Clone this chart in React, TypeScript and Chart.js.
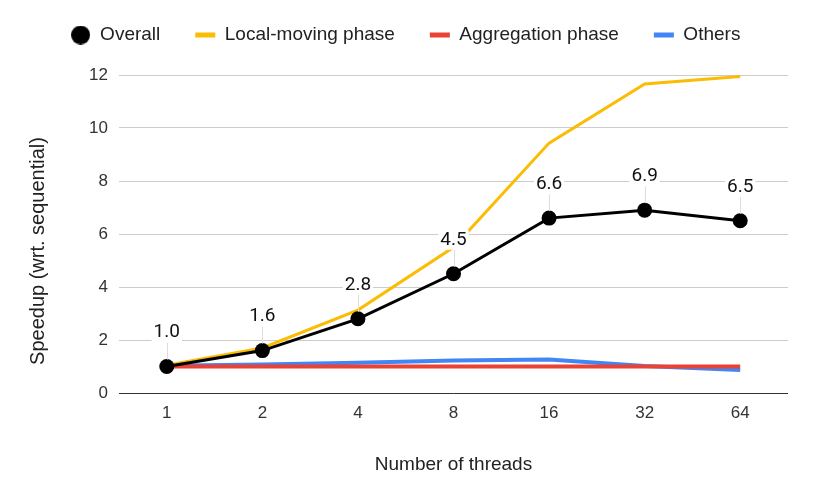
import React, { useEffect, useRef } from 'react';
import { Chart, registerables } from 'chart.js';

Chart.register(...registerables);

const threads = ['1', '2', '4', '8', '16', '32', '64'];
const overall = [1.0, 1.6, 2.8, 4.5, 6.6, 6.9, 6.5];
const localMoving = [1.05, 1.7, 3.13, 5.5, 9.43, 11.66, 11.94];
const aggregation = [1.0, 1.0, 1.0, 1.0, 1.0, 1.0, 1.0];
const others = [1.03, 1.08, 1.14, 1.23, 1.26, 1.02, 0.87];
const seriesNames = ['Overall', 'Local-moving phase', 'Aggregation phase', 'Others'];
const seriesColors = ['#000000', '#FBBC04', '#EA4335', '#4285F4'];
const yTitle = 'Speedup (wrt. sequential)';
const xTitle = 'Number of threads';

const AXIS_FONT = '"Liberation Sans", Arial, sans-serif';
const LABEL_FONT = 'Roboto, "Liberation Sans", sans-serif';

const pointLabelPlugin = {
  id: 'pointLabels',
  afterDatasetsDraw(chart: any) {
    const meta = chart.getDatasetMeta(0);
    const ctx = chart.ctx;
    ctx.save();
    ctx.font = `19px ${LABEL_FONT}`;
    ctx.textAlign = 'center';
    ctx.textBaseline = 'middle';
    meta.data.forEach((pt: any, i: number) => {
      const text = overall[i].toFixed(1);
      const x = pt.x;
      const y = pt.y - 34;
      const w = ctx.measureText(text).width;
      ctx.strokeStyle = '#dddddd';
      ctx.lineWidth = 1;
      ctx.beginPath();
      ctx.moveTo(Math.round(x) + 0.5, y + 10);
      ctx.lineTo(Math.round(x) + 0.5, pt.y - 7);
      ctx.stroke();
      ctx.fillStyle = '#ffffff';
      ctx.fillRect(x - w / 2 - 2, y - 10, w + 4, 20);
      ctx.fillStyle = '#111111';
      ctx.fillText(text, x, y);
    });
    ctx.restore();
  },
};

const yTitlePlugin = {
  id: 'yTitleDraw',
  afterDraw(chart: any) {
    const ctx = chart.ctx;
    ctx.save();
    ctx.translate(38, 251);
    ctx.rotate(-Math.PI / 2);
    ctx.font = `20px ${AXIS_FONT}`;
    ctx.fillStyle = '#222222';
    ctx.textAlign = 'center';
    ctx.textBaseline = 'middle';
    ctx.fillText(yTitle, 0, 0);
    ctx.restore();
  },
};

const legendSizePlugin = {
  id: 'legendSize',
  beforeInit(chart: any) {
    const lg = chart.legend;
    if (!lg) return;
    const orig = lg.fit.bind(lg);
    lg.fit = function () {
      orig();
      this.height = 84.5;
    };
  },
};

export default function App() {
  const ref = useRef<HTMLCanvasElement | null>(null);

  useEffect(() => {
    if (!ref.current) return;
    const circle = document.createElement('canvas');
    circle.width = 19;
    circle.height = 19;
    const g = circle.getContext('2d')!;
    g.fillStyle = '#000000';
    g.beginPath();
    g.arc(9.5, 9.5, 9.5, 0, Math.PI * 2);
    g.fill();

    const seriesData = [overall, localMoving, aggregation, others];
    const chart = new Chart(ref.current, {
      type: 'line',
      data: {
        labels: threads,
        datasets: seriesData.map((d, i) => ({
          label: seriesNames[i],
          data: d,
          borderColor: seriesColors[i],
          backgroundColor: seriesColors[i],
          borderWidth: i === 0 ? 3 : i === 1 ? 3 : 4,
          pointRadius: i === 0 ? 7.5 : 0,
          pointHoverRadius: i === 0 ? 7.5 : 0,
          pointBackgroundColor: seriesColors[i],
          pointBorderWidth: 0,
          tension: 0,
          fill: false,
        })),
      },
      options: {
        animation: false,
        responsive: true,
        maintainAspectRatio: false,
        layout: { padding: { top: -9.5, left: 23, right: 26, bottom: 0 } },
        plugins: {
          tooltip: { enabled: false },
          legend: {
            position: 'top',
            labels: {
              usePointStyle: true,
              pointStyleWidth: 20,
              padding: 35,
              color: '#222222',
              font: { family: AXIS_FONT, size: 19 },
              generateLabels: (ch: any) =>
                ch.data.datasets.map((ds: any, i: number) => ({
                  text: ds.label,
                  fillStyle: ds.borderColor,
                  strokeStyle: ds.borderColor,
                  lineWidth: i === 0 ? 0 : 5,
                  pointStyle: i === 0 ? circle : 'line',
                  hidden: false,
                  datasetIndex: i,
                  fontColor: '#222222',
                })),
            },
          },
        },
        scales: {
          x: {
            offset: true,
            grid: { display: false, drawTicks: false },
            border: { display: false },
            ticks: { color: '#333333', font: { family: AXIS_FONT, size: 17 }, padding: 10 },
            title: {
              display: true,
              text: xTitle,
              color: '#222222',
              font: { family: AXIS_FONT, size: 19 },
              padding: { top: 0, bottom: 25 },
            },
            afterFit: (s: any) => {
              s.height = 108;
            },
          },
          y: {
            min: 0,
            max: 12,
            ticks: { stepSize: 2, color: '#333333', font: { family: AXIS_FONT, size: 17 }, padding: 11 },
            grid: {
              color: (c: any) => (c.tick && c.tick.value === 0 ? '#333333' : '#cccccc'),
              drawTicks: false,
            },
            border: { display: false },
            afterFit: (s: any) => {
              s.width = 96;
            },
          },
        },
      },
      plugins: [legendSizePlugin, pointLabelPlugin, yTitlePlugin],
    });
    return () => chart.destroy();
  }, []);

  return (
    <div style={{ position: 'fixed', left: 0, top: 0, width: 814, height: 501, background: '#ffffff' }}>
      <canvas ref={ref} />
    </div>
  );
}
